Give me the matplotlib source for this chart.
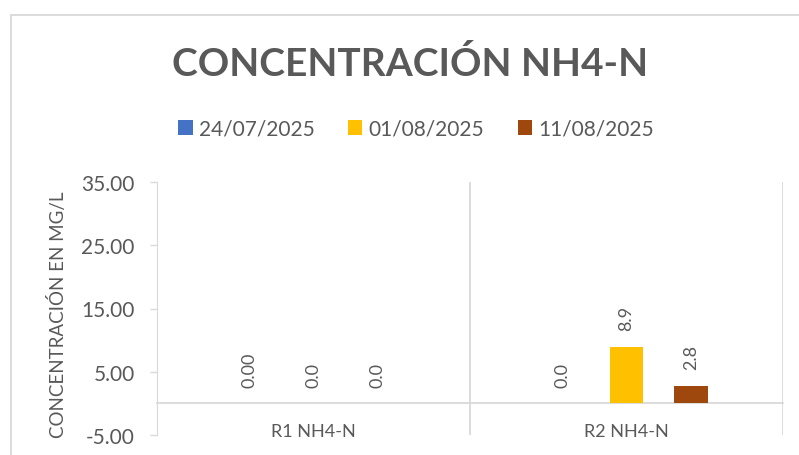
import matplotlib
matplotlib.use("Agg")
import numpy as np
import matplotlib.pyplot as plt
from matplotlib.patches import Rectangle

# data
categories = ["R1 NH4-N", "R2 NH4-N"]
series_names = ["24/07/2025", "01/08/2025", "11/08/2025"]
series_values = [
    [0.0, 0.0],
    [0.0, 8.9],
    [0.0, 2.8],
]
series_labels = [
    ["0.00", "0.0"],
    ["0.0", "8.9"],
    ["0.0", "2.8"],
]
series_colors = ["#4472C4", "#FFC000", "#9E480E"]
yticks = [-5, 5, 15, 25, 35]

TXT = "#595959"
LINE = "#D9D9D9"
plt.rcParams['font.family'] = ['Lato', 'DejaVu Sans']

fig = plt.figure(figsize=(7.99, 4.56), dpi=100)
W, H = 799, 456
ax = fig.add_axes([157 / W, 1 - 436 / H, (783 - 157) / W, (436 - 183) / H])

x = np.arange(len(categories))
width = 0.106
step = 0.206
for i, (name, vals) in enumerate(zip(series_names, series_values)):
    bars = ax.bar(x + (i - 1) * step, vals, width, color=series_colors[i], label=name, zorder=3)
    ax.bar_label(bars, labels=series_labels[i], padding=12, rotation=90,
                 fontsize=13, color=TXT)

ax.set_xlim(-0.5, 1.5)
ax.set_ylim(-5, 35)
ax.set_yticks(yticks)
ax.set_yticklabels([f"{v:.2f}" for v in yticks])
ax.tick_params(axis='y', length=5, width=1, color=LINE, labelsize=15, labelcolor=TXT, pad=11)
ax.set_xticks(x)
ax.set_xticklabels(categories)
ax.tick_params(axis='x', length=0, labelsize=13, labelcolor=TXT, pad=14)

ax.spines['top'].set_visible(False)
ax.spines['right'].set_visible(False)
ax.spines['left'].set_color(LINE)
ax.spines['bottom'].set_color(LINE)
ax.spines['bottom'].set_linewidth(1.3)
ax.spines['bottom'].set_position(('data', 0))
for xv in [0.5, 1.5]:
    ax.axvline(xv, color=LINE, lw=1.3, zorder=1)

fig.text(410 / W, 1 - 64 / H, "CONCENTRACIÓN NH4-N", ha='center', va='center',
         fontsize=28, fontweight='bold', color=TXT)
fig.text(58 / W, 1 - 192 / H, "CONCENTRACIÓN EN MG/L", rotation=90, ha='center', va='top',
         fontsize=13.5, color=TXT)

fig.legend(loc='center', bbox_to_anchor=(416 / W, 1 - 130 / H), ncol=3, frameon=False,
           fontsize=15, labelcolor=TXT, handlelength=0.7, handleheight=0.7,
           handletextpad=0.3, columnspacing=1.6)

fig.patches.append(Rectangle((11 / W, -0.5), 2, 1.5 - 16 / H, transform=fig.transFigure,
                             fill=False, edgecolor=LINE, lw=1.3))

fig.savefig("out.png", dpi=100)
